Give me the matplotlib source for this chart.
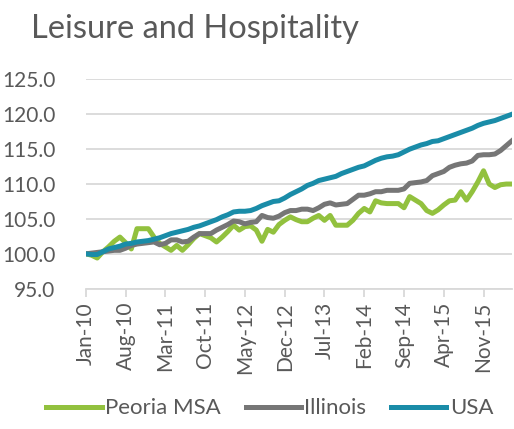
import pandas as pd
import matplotlib
matplotlib.use("Agg")
import matplotlib.pyplot as plt

# monthly index, Jan-10 = 100
months = pd.date_range("2010-01-01", periods=76, freq="MS")

peoria = [100.0, 99.8, 99.4, 100.3, 101.0, 101.8, 102.4, 101.6, 100.7, 103.6,
          103.6, 103.6, 102.4, 101.5, 101.0, 100.5, 101.2, 100.5, 101.3, 102.2,
          102.9, 102.6, 102.3, 101.7, 102.4, 103.2, 104.1, 103.4, 103.9, 104.0,
          103.4, 101.8, 103.5, 103.1, 104.2, 104.8, 105.3, 104.9, 104.6, 104.6,
          105.1, 105.5, 104.8, 105.5, 104.1, 104.1, 104.1, 104.8, 105.8, 106.5,
          106.0, 107.6, 107.3, 107.2, 107.2, 107.2, 106.6, 108.2, 107.7, 107.2,
          106.2, 105.8, 106.3, 107.0, 107.6, 107.7, 108.9, 107.7, 108.9, 110.3,
          111.9, 110.0, 109.5, 109.9, 110.0, 110.0]

illinois = [100.0, 100.1, 100.2, 100.3, 100.4, 100.5, 100.5, 100.8, 101.2, 101.4,
            101.5, 101.6, 101.7, 101.3, 101.5, 102.0, 102.0, 101.7, 101.8, 102.4,
            102.9, 102.9, 102.9, 103.4, 103.8, 104.2, 104.7, 104.6, 104.3, 104.5,
            104.6, 105.5, 105.2, 105.1, 105.4, 105.9, 106.2, 106.2, 106.4, 106.4,
            106.2, 106.6, 107.1, 107.3, 107.0, 107.1, 107.2, 107.8, 108.4, 108.4,
            108.6, 108.9, 108.9, 109.1, 109.1, 109.1, 109.3, 110.1, 110.2, 110.3,
            110.5, 111.2, 111.5, 111.8, 112.4, 112.7, 112.9, 113.0, 113.3, 114.1,
            114.2, 114.2, 114.3, 114.8, 115.5, 116.2]

usa = [100.0, 99.9, 99.9, 100.3, 100.7, 100.9, 101.1, 101.4, 101.5, 101.7,
       101.8, 101.9, 102.1, 102.3, 102.6, 102.9, 103.1, 103.3, 103.5, 103.8,
       104.0, 104.3, 104.6, 104.9, 105.3, 105.6, 106.0, 106.1, 106.1, 106.2,
       106.5, 106.9, 107.2, 107.5, 107.6, 108.0, 108.5, 108.9, 109.3, 109.8,
       110.1, 110.5, 110.7, 110.9, 111.1, 111.5, 111.8, 112.1, 112.4, 112.6,
       113.0, 113.4, 113.7, 113.9, 114.0, 114.2, 114.6, 115.0, 115.3, 115.6,
       115.8, 116.1, 116.2, 116.5, 116.8, 117.1, 117.4, 117.7, 118.0, 118.4,
       118.7, 118.9, 119.1, 119.4, 119.7, 120.0]

plt.rcParams['font.family'] = ['Lato', 'DejaVu Sans']
text_color = '#595959'

fig = plt.figure(figsize=(5.14, 4.29), dpi=100)
ax = fig.add_axes([0.167, 0.327, 0.829, 0.488])

x = list(range(len(months)))
ax.plot(x, peoria, color='#92C13E', lw=3.6, label='Peoria MSA', solid_joinstyle='round')
ax.plot(x, illinois, color='#767676', lw=3.6, label='Illinois', solid_joinstyle='round')
ax.plot(x, usa, color='#1A8CA8', lw=3.6, label='USA', solid_joinstyle='round')

ax.set_ylim(95, 125)
ax.set_yticks([95 + 5 * i for i in range(7)])
ax.set_yticklabels(['%.1f' % (95 + 5 * i) for i in range(7)])
ax.set_xlim(0, len(months) - 1)
ax.set_xticks(x[::7])
ax.set_xticklabels([d.strftime('%b-%y') for d in months[::7]], rotation=90)

ax.grid(axis='y', color='#D9D9D9', lw=1.3)
ax.set_axisbelow(True)
for s in ['top', 'right', 'left']:
    ax.spines[s].set_visible(False)
ax.spines['bottom'].set_color('#D9D9D9')
ax.spines['bottom'].set_linewidth(1.3)
ax.tick_params(axis='x', colors='#D9D9D9', length=6, width=1.3, labelcolor=text_color, labelsize=15)
ax.tick_params(axis='y', length=0, labelcolor=text_color, labelsize=15, pad=22)

fig.text(0.38, 0.932, 'Leisure and Hospitality', ha='center', va='center',
         fontsize=23.5, color=text_color)

fig.legend(loc='center', bbox_to_anchor=(0.525, 0.048), ncol=3, frameon=False,
           fontsize=16, handlelength=2.5, columnspacing=1.1, handletextpad=0.15,
           labelcolor=text_color)

fig.savefig('out.png', dpi=100)
